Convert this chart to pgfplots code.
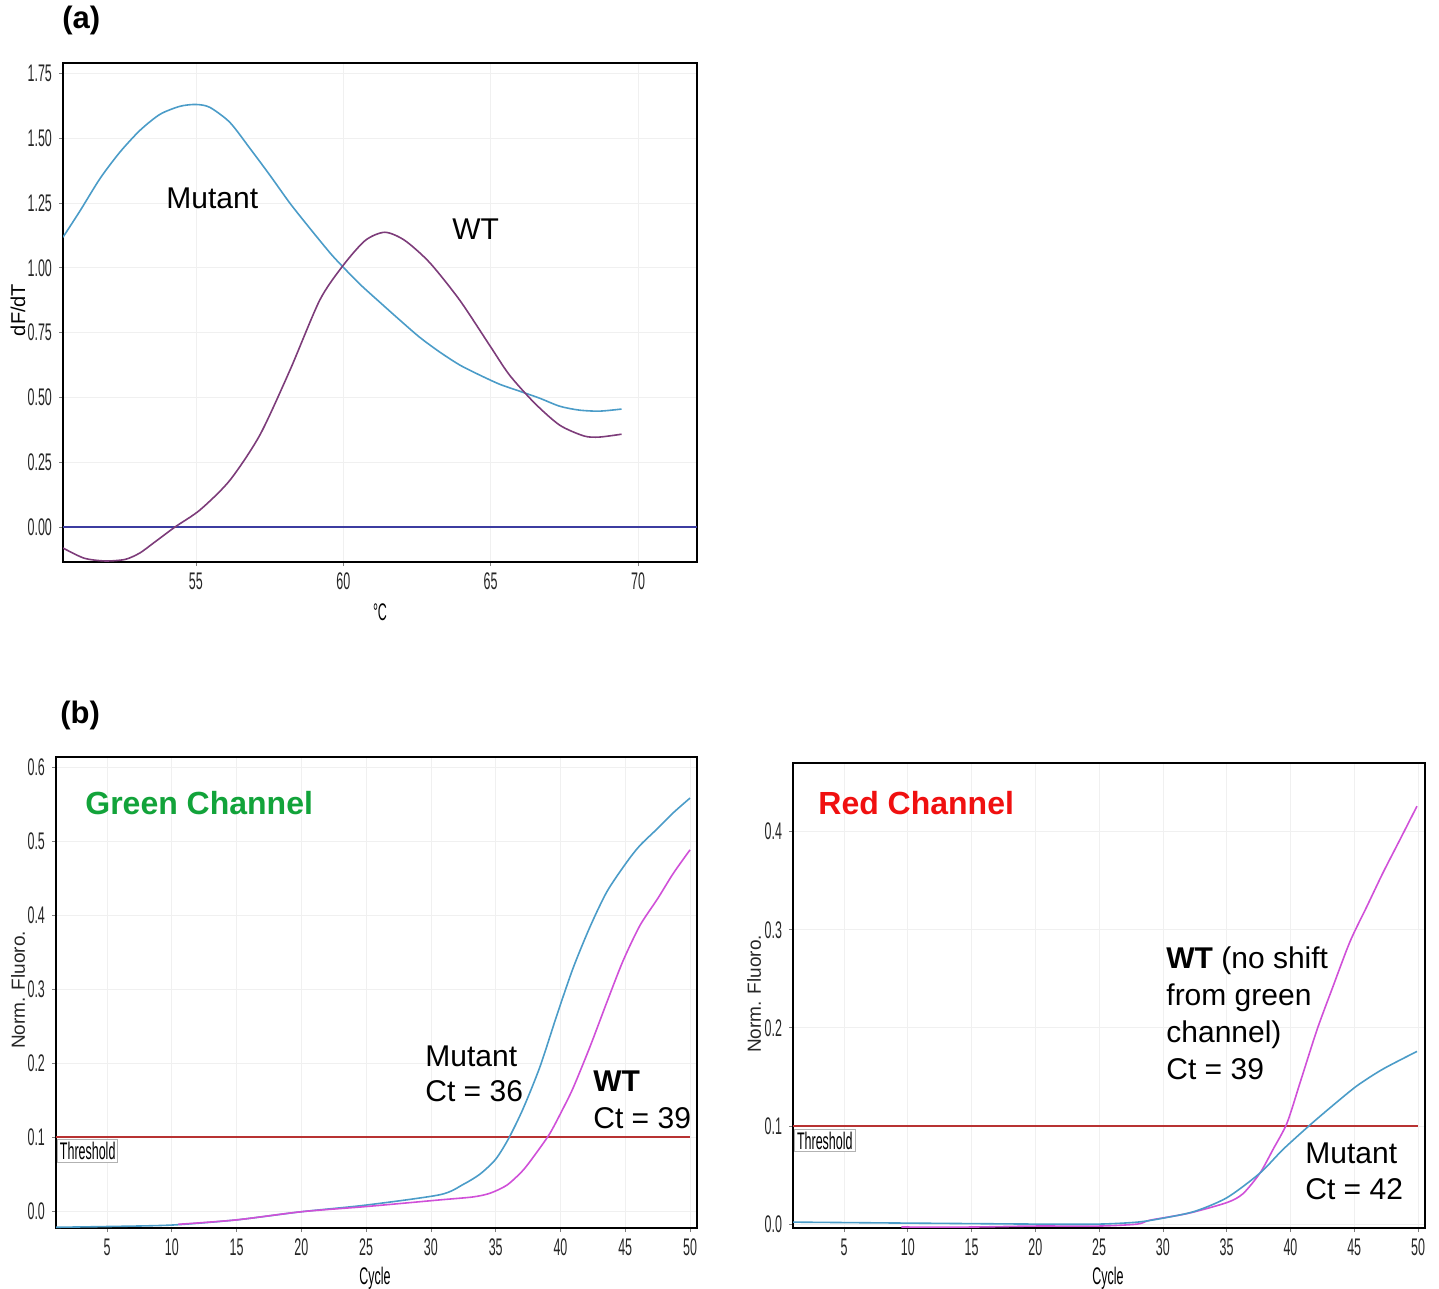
\documentclass[border=0pt]{standalone}
\usepackage{fontspec}
\setmainfont{Liberation Sans}
\newfontfamily\narrow[FakeStretch=0.52]{Liberation Sans}
\usepackage{pgfplots}
\pgfplotsset{compat=1.18}

\definecolor{mutblue}{HTML}{4B9CC8}
\definecolor{wtpurple}{HTML}{7D3C7A}
\definecolor{wtmag}{HTML}{D050D8}
\definecolor{zeroline}{HTML}{3C3CA0}
\definecolor{thresh}{HTML}{B83232}
\definecolor{grtxt}{HTML}{12A33A}
\definecolor{rdtxt}{HTML}{F01010}

\pgfplotsset{
  qpcr/.style={
    scale only axis,
    anchor=south west,
    axis line style={black, line width=1.2pt},
    tick pos=left,
    tick align=outside,
    major tick length=2pt,
    tick style={gray, thin},
    grid=major,
    grid style={gray!12, thin},
    ticklabel style={font=\narrow\fontsize{12}{14}\selectfont, text=black!85},
    /pgf/number format/assume math mode=true,
    every axis plot/.append style={line width=0.8pt, no marks, smooth, tension=0.45},
  }
}

\begin{document}
\begin{tikzpicture}
\path[use as bounding box] (0pt,0pt) rectangle (719.5pt,-644.5pt);

% ---------- (a) melt curve ----------
\begin{axis}[qpcr,
  at={(31.5pt,-281pt)}, width=317pt, height=249.5pt,
  xmin=50.49, xmax=72.0, ymin=-0.135, ymax=1.79,
  xtick={55,60,65,70},
  ytick={0,0.25,0.5,0.75,1,1.25,1.5,1.75},
  yticklabel style={/pgf/number format/fixed, /pgf/number format/fixed zerofill, /pgf/number format/precision=2},
]
\addplot[zeroline, line width=1pt] coordinates {(50.49,0) (72.0,0)};
\addplot[mutblue] coordinates {
  (50.49,1.118) (51.07,1.22) (51.75,1.345) (52.42,1.446) (53.10,1.530)
  (53.78,1.592) (54.46,1.623) (55.00,1.630) (55.47,1.619) (56.15,1.561)
  (56.83,1.461) (57.51,1.357) (58.19,1.249) (58.86,1.153) (59.56,1.056)
  (60.00,1.002) (60.56,0.937) (61.24,0.867) (61.92,0.798) (62.59,0.732)
  (63.27,0.675) (63.95,0.625) (64.63,0.586) (65.30,0.551) (65.98,0.524)
  (66.66,0.497) (67.34,0.466) (68.00,0.451) (68.69,0.447) (69.44,0.455)};
\addplot[wtpurple] coordinates {
  (50.49,-0.081) (51.20,-0.120) (51.91,-0.131) (52.60,-0.125) (53.10,-0.100)
  (53.58,-0.060) (54.29,0.000) (55.14,0.066) (56.15,0.180) (57.17,0.355)
  (58.19,0.605) (59.20,0.875) (60.00,1.010) (60.75,1.106) (61.41,1.137)
  (62.08,1.106) (62.93,1.020) (63.95,0.875) (64.97,0.700) (65.64,0.586)
  (66.49,0.478) (67.34,0.393) (68.17,0.351) (68.69,0.347) (69.44,0.358)};
\end{axis}

% ---------- (b) green channel ----------
\begin{axis}[qpcr,
  at={(28pt,-614pt)}, width=320.5pt, height=235.5pt,
  xmin=1.06, xmax=50.54, ymin=-0.023, ymax=0.6135,
  xtick={5,10,...,50},
  ytick={0,0.1,...,0.6},
  yticklabel style={/pgf/number format/fixed, /pgf/number format/fixed zerofill, /pgf/number format/precision=1},
]
\addplot[thresh, line width=0.9pt] coordinates {(1.06,0.1) (50,0.1)};
\addplot[mutblue] coordinates {
  (1,-0.022) (5,-0.021) (10,-0.019) (15,-0.012) (20,-0.001) (25,0.008)
  (30.7,0.022) (32.5,0.036) (33.8,0.050) (35.0,0.070) (36.0,0.098)
  (37.11,0.138) (38.42,0.195) (39.73,0.265) (40.97,0.328) (42.28,0.384)
  (43.6,0.432) (45.14,0.472) (46.14,0.494) (47.5,0.517) (48.7,0.538) (50,0.558)};
\addplot[wtmag] coordinates {
  (10.5,-0.018) (15,-0.012) (20,-0.001) (25,0.006) (30.7,0.015)
  (33.25,0.019) (34.56,0.024) (35.87,0.035) (37.11,0.055) (38.2,0.080)
  (39.19,0.105) (40.1,0.135) (40.97,0.166) (42.28,0.222) (43.6,0.283)
  (44.83,0.338) (46.14,0.386) (47.5,0.422) (48.7,0.456) (50,0.488)};
\node[draw=gray!60, fill=white, anchor=north west, inner sep=1.2pt,
      font=\narrow\fontsize{12}{14}\selectfont] at (axis cs:1.15,0.097) {Threshold};
\end{axis}

% ---------- (b) red channel ----------
\begin{axis}[qpcr,
  at={(396.5pt,-614pt)}, width=316pt, height=232.5pt,
  xmin=1.0, xmax=50.55, ymin=-0.004, ymax=0.470,
  xtick={5,10,...,50},
  ytick={0,0.1,...,0.4},
  yticklabel style={/pgf/number format/fixed, /pgf/number format/fixed zerofill, /pgf/number format/precision=1},
]
\addplot[thresh, line width=0.9pt] coordinates {(1.0,0.1) (50,0.1)};
\addplot[wtmag] coordinates {
  (9.5,-0.003) (15,-0.003) (20,-0.002) (25,-0.002) (28,0.000) (29,0.004)
  (32,0.011) (35.03,0.022) (36.28,0.031) (37.61,0.052) (38.63,0.076)
  (39.73,0.103) (40.75,0.144) (42.08,0.198) (43.33,0.242) (44.67,0.288)
  (46.0,0.324) (47.25,0.358) (48.59,0.392) (49.92,0.426)};
\addplot[mutblue] coordinates {
  (1,0.002) (10,0.001) (20,0.000) (25,0.000) (28,0.002) (30,0.006)
  (32.5,0.013) (35.03,0.027) (37.61,0.052) (39.41,0.076) (41.53,0.101)
  (43.33,0.121) (45.22,0.141) (47.25,0.158) (49.92,0.176)};
\node[draw=gray!60, fill=white, anchor=north west, inner sep=1.2pt,
      font=\narrow\fontsize{12}{14}\selectfont] at (axis cs:1.1,0.097) {Threshold};
\end{axis}

% ---------- labels ----------
\begin{scope}[every node/.append style={inner sep=0pt}]
\node[anchor=west, font=\bfseries\fontsize{15.5}{18}\selectfont] at (31pt,-10pt) {(a)};
\node[anchor=west, font=\bfseries\fontsize{15.5}{18}\selectfont] at (30pt,-357.5pt) {(b)};

\node[anchor=west, font=\fontsize{15}{18}\selectfont] at (83pt,-99pt) {Mutant};
\node[anchor=west, font=\fontsize{15}{18}\selectfont] at (226pt,-114.5pt) {WT};
\node[rotate=90, font=\fontsize{10}{12}\selectfont] at (9pt,-155pt) {dF/dT};
\node[font=\narrow\fontsize{12}{14}\selectfont] at (190pt,-306pt) {°C};

\node[rotate=90, font=\fontsize{9.5}{11}\selectfont, text=black!85] at (9pt,-495pt) {Norm. Fluoro.};
\node[rotate=90, font=\fontsize{9.5}{11}\selectfont, text=black!85] at (377pt,-497pt) {Norm. Fluoro.};
\node[font=\narrow\fontsize{12}{14}\selectfont] at (187.5pt,-639pt) {Cycle};
\node[font=\narrow\fontsize{12}{14}\selectfont] at (554pt,-639pt) {Cycle};

\node[anchor=base west, text=grtxt, font=\bfseries\fontsize{16}{19}\selectfont] at (42.5pt,-407pt) {Green Channel};
\node[anchor=base west, text=rdtxt, font=\bfseries\fontsize{16}{19}\selectfont] at (409pt,-407pt) {Red Channel};
\end{scope}

\begin{scope}[every node/.style={anchor=base west, inner sep=0pt, font=\fontsize{15}{18}\selectfont}]
\node at (212.5pt,-533pt) {Mutant};
\node at (212.5pt,-550.5pt) {Ct = 36};
\node at (296.5pt,-545.5pt) {\textbf{WT}};
\node at (296.5pt,-564pt) {Ct = 39};
\node at (583pt,-484pt) {\textbf{WT} (no shift};
\node at (583pt,-502.5pt) {from green};
\node at (583pt,-521pt) {channel)};
\node at (583pt,-539.5pt) {Ct = 39};
\node at (652.5pt,-581.5pt) {Mutant};
\node at (652.5pt,-599.5pt) {Ct = 42};
\end{scope}
\end{tikzpicture}
\end{document}
